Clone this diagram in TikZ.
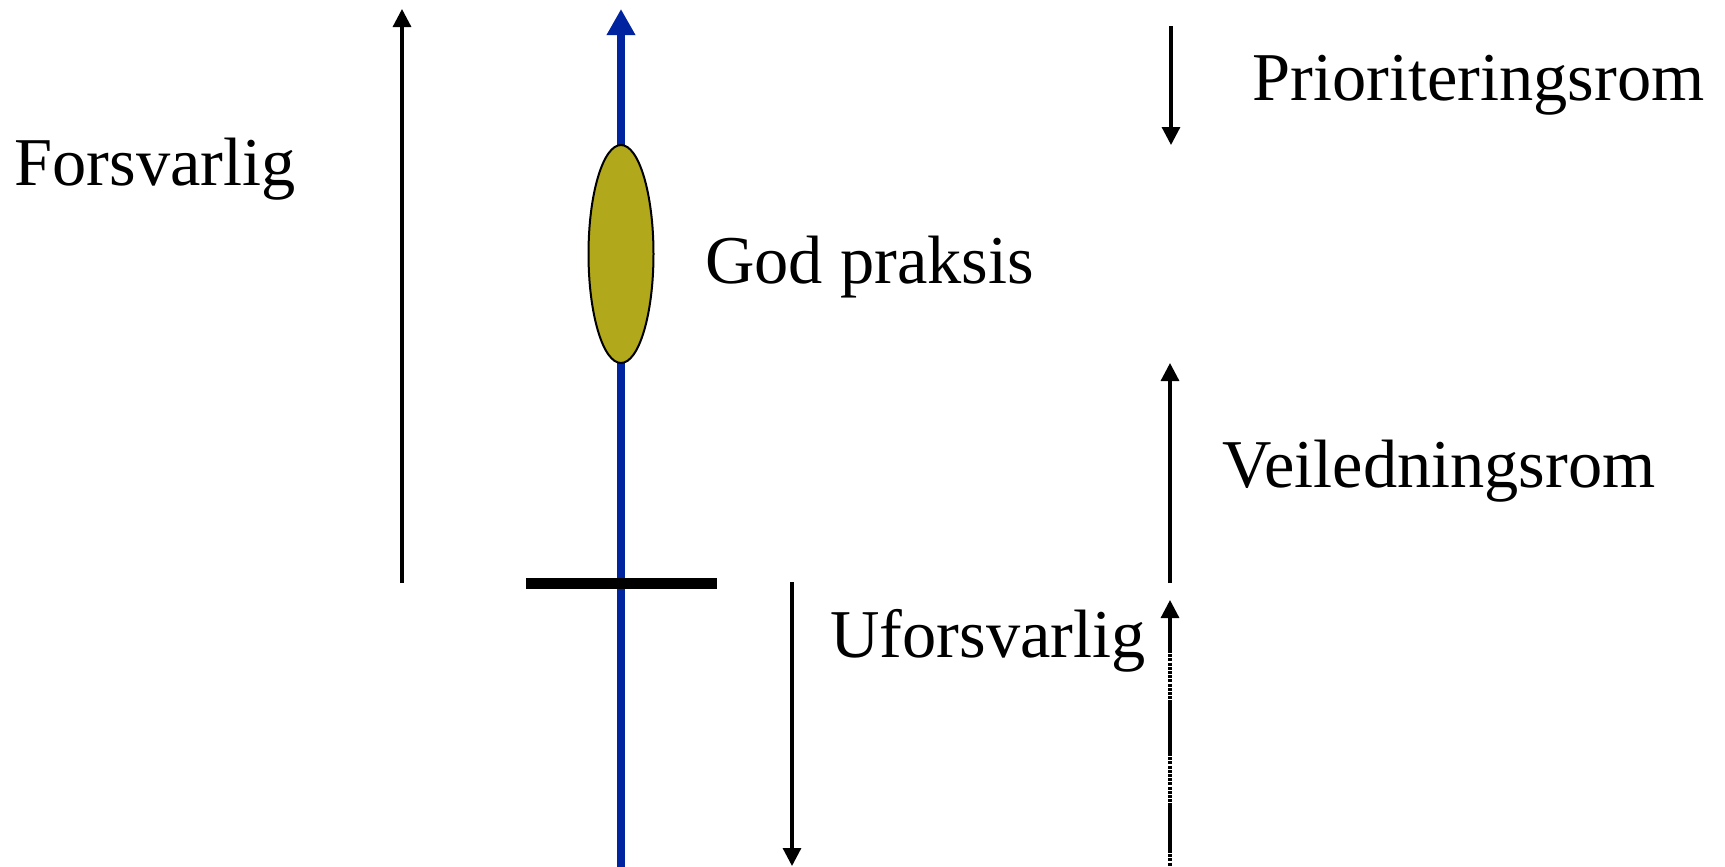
\documentclass[tikz,border=0pt]{standalone}
\usepackage{fontspec}
\setmainfont{Liberation Serif}
\usetikzlibrary{arrows.meta,shapes.geometric}
\definecolor{axisblue}{RGB}{0,35,160}
\definecolor{olivefill}{RGB}{178,168,28}
\tikzset{
  lbl/.style={anchor=base west,inner sep=0pt,font=\fontsize{34.2}{41}\selectfont},
  thinarrow/.style={line width=1.6pt,-{Triangle[length=9pt,width=9pt]}},
  thinline/.style={line width=1.6pt},
  dotline/.style={line width=1.6pt,dash pattern=on 1.5pt off 0.6pt},
  bluearrow/.style={line width=4.3pt,draw=axisblue,-{Triangle[length=13pt,width=13.5pt]}},
  blob/.style={ellipse,draw=black,line width=1pt,fill=olivefill,minimum width=32.5pt,minimum height=109pt,inner sep=0pt},
}
\begin{document}
\begin{tikzpicture}[x=0.5pt,y=-0.5pt]
\useasboundingbox (0,0) rectangle (1725,867);
% coordinates
\coordinate (fb) at (402,583);
\coordinate (ft) at (402,9);
\coordinate (bb) at (621,869);
\coordinate (bt) at (621,9);
\coordinate (barl) at (526,583);
\coordinate (barr) at (717,583);
\coordinate (ut) at (792,582);
\coordinate (ub) at (792,866);
\coordinate (pt) at (1171,26);
\coordinate (pb) at (1171,145);
\coordinate (vb) at (1170,583);
\coordinate (vt) at (1170,363);
\coordinate (s1) at (1170,600);
\coordinate (s2) at (1170,650);
\coordinate (s3) at (1170,703);
\coordinate (s4) at (1170,753);
\coordinate (s5) at (1170,805);
\coordinate (s6) at (1170,850);
\coordinate (s7) at (1170,867);
% blue axis
\draw[bluearrow] (bb) -- (bt);
\node[blob] (gp) at (621,254) {};
\draw[line width=5.5pt] (barl) -- (barr);
% arrows
\draw[thinarrow] (fb) -- (ft);
\draw[thinarrow] (ut) -- (ub);
\draw[thinarrow] (pt) -- (pb);
\draw[thinarrow] (vb) -- (vt);
\draw[thinarrow] (s2) -- (s1);
\draw[dotline] (s2) -- (s3);
\draw[thinline] (s3) -- (s4);
\draw[dotline] (s4) -- (s5);
\draw[thinline] (s5) -- (s6);
\draw[dotline] (s6) -- (s7);
% labels
\node[lbl] (forsv) at (14,185) {Forsvarlig};
\node[lbl] (godp) at (705,283) {God praksis};
\node[lbl] (prior) at (1252,100) {Prioriteringsrom};
\node[lbl] (veil) at (1222,487) {Veiledningsrom};
\node[lbl] (ufors) at (830,657) {Uforsvarlig};
\end{tikzpicture}
\end{document}
